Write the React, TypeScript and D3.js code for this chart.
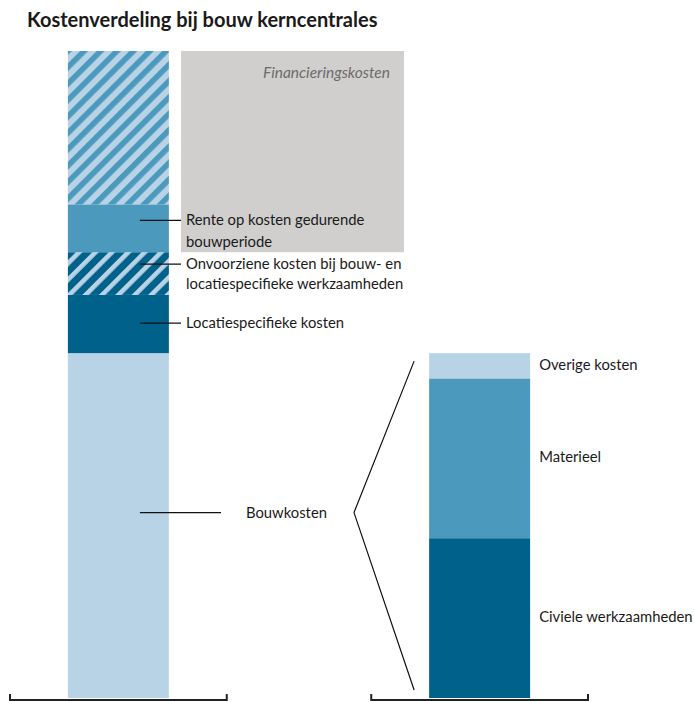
import React from "react";
import * as d3 from "d3";

const title = "Kostenverdeling bij bouw kerncentrales";

// Left stacked bar (bottom to top), share of total (%)
const leftKeys = ["bouw", "locatie", "onvoorzien", "rente", "financiering"];
const leftValues = [53.3, 9.0, 6.6, 7.4, 23.7];

// Right stacked bar: breakdown of Bouwkosten (bottom to top), same units
const rightKeys = ["civiel", "materieel", "overig"];
const rightValues = [24.7, 24.7, 3.9];

const categories = ["Totaal", "Bouwkosten"];

const W = 694;
const H = 702;

const LIGHT = "#b8d3e6";
const MID = "#4b9abe";
const DARK = "#00618b";
const GRAY = "#d0cfce";
const TEXT = "#1a1a1a";
const FONT = "Lato, 'Open Sans', sans-serif";

export default function App() {
  const x = d3.scaleBand<string>().domain(categories).range([10, 588]).paddingInner(0.4);
  const y = d3.scaleLinear().domain([0, 100]).range([698, 51]);
  const barW = 101;

  const leftStack = d3.cumsum(leftValues);
  const leftSegs = leftKeys.map((k, i) => ({
    key: k,
    y0: i === 0 ? 0 : leftStack[i - 1],
    y1: leftStack[i],
  }));
  const rightStack = d3.cumsum(rightValues);
  const rightSegs = rightKeys.map((k, i) => ({
    key: k,
    y0: i === 0 ? 0 : rightStack[i - 1],
    y1: rightStack[i],
  }));

  const lx = (x(categories[0]) ?? 0) + (x.bandwidth() - barW) / 2;
  const rx = (x(categories[1]) ?? 0) + (x.bandwidth() - barW) / 2;

  const leftFill: Record<string, string> = {
    bouw: LIGHT,
    locatie: DARK,
    onvoorzien: "url(#hatchDark)",
    rente: MID,
    financiering: "url(#hatchMid)",
  };
  const rightFill: Record<string, string> = {
    civiel: DARK,
    materieel: MID,
    overig: LIGHT,
  };

  const seg = (k: string) => leftSegs.find((s) => s.key === k)!;

  const leaderX0 = lx + 72;
  const labelX = 186;

  const renteY = y(seg("rente").y1) + 12;
  const onvY = y(seg("onvoorzien").y1) + 12;
  const locY = (y(seg("locatie").y0) + y(seg("locatie").y1)) / 2 - 1;
  const bouwY = (y(seg("bouw").y0) + y(seg("bouw").y1)) / 2 - 13;

  const grayTop = y(seg("financiering").y1);
  const grayBottom = y(seg("rente").y0);

  const rightTop = y(rightStack[rightStack.length - 1]);
  const baseY = y(0);

  const axisY = 700;

  const line = d3.line();

  return (
    <svg width={W} height={H} style={{ position: "absolute", left: 0, top: 0, background: "#fff" }}>
      <defs>
        <pattern id="hatchMid" patternUnits="userSpaceOnUse" width={11.6} height={11.6} patternTransform="rotate(45)">
          <rect width={11.6} height={11.6} fill={LIGHT} />
          <rect width={5.6} height={11.6} fill={MID} />
        </pattern>
        <pattern id="hatchDark" patternUnits="userSpaceOnUse" width={11.6} height={11.6} patternTransform="rotate(45)">
          <rect width={11.6} height={11.6} fill={DARK} />
          <rect width={4.6} height={11.6} fill={LIGHT} />
        </pattern>
      </defs>

      <text x={27} y={27} fontFamily={FONT} fontWeight={700} fontSize={20} fill={TEXT}>
        {title}
      </text>

      {/* financing background */}
      <rect x={181} y={grayTop} width={404 - 181} height={grayBottom - grayTop} fill={GRAY} />
      <text x={390} y={78} textAnchor="end" fontFamily={FONT} fontStyle="italic" fontSize={15.5} fill="#6b6b6b">
        Financieringskosten
      </text>

      {leftSegs.map((s) => (
        <rect key={s.key} x={lx} width={barW} y={y(s.y1)} height={y(s.y0) - y(s.y1)} fill={leftFill[s.key]} />
      ))}
      {rightSegs.map((s) => (
        <rect key={s.key} x={rx} width={barW} y={y(s.y1)} height={y(s.y0) - y(s.y1)} fill={rightFill[s.key]} />
      ))}

      {/* leaders */}
      <g stroke="#111" strokeWidth={1.3}>
        <line x1={leaderX0} x2={181} y1={renteY + 4} y2={renteY + 4} />
        <line x1={leaderX0} x2={181} y1={onvY} y2={onvY} />
        <line x1={leaderX0} x2={181} y1={locY} y2={locY} />
        <line x1={leaderX0} x2={221} y1={bouwY} y2={bouwY} />
      </g>

      <g fontFamily={FONT} fontSize={14.8} fill={TEXT}>
        <text x={labelX} y={renteY + 9}>Rente op kosten gedurende</text>
        <text x={labelX} y={renteY + 31}>bouwperiode</text>
        <text x={labelX} y={onvY + 5}>Onvoorziene kosten bij bouw- en</text>
        <text x={labelX} y={onvY + 25}>locatiespecifieke werkzaamheden</text>
        <text x={labelX} y={locY + 5}>Locatiespecifieke kosten</text>
        <text x={246} y={bouwY + 5}>Bouwkosten</text>
        {rightSegs.map((s) => (
          <text key={s.key} x={rx + barW + 9} y={(y(s.y0) + y(s.y1)) / 2 + 4}>
            {s.key === "overig" ? "Overige kosten" : s.key === "materieel" ? "Materieel" : "Civiele werkzaamheden"}
          </text>
        ))}
      </g>

      {/* bracket */}
      <path
        d={line([
          [rx - 15, rightTop + 8],
          [354, bouwY],
          [rx - 15, baseY - 8],
        ]) ?? ""}
        fill="none"
        stroke="#111"
        strokeWidth={1.2}
      />

      {/* axes */}
      {categories.map((c) => {
        const x0 = x(c) ?? 0;
        const x1 = x0 + x.bandwidth();
        return (
          <path
            key={c}
            d={`M${x0},${axisY - 6}V${axisY}H${x1}V${axisY - 6}`}
            fill="none"
            stroke="#222"
            strokeWidth={2}
          />
        );
      })}
    </svg>
  );
}
